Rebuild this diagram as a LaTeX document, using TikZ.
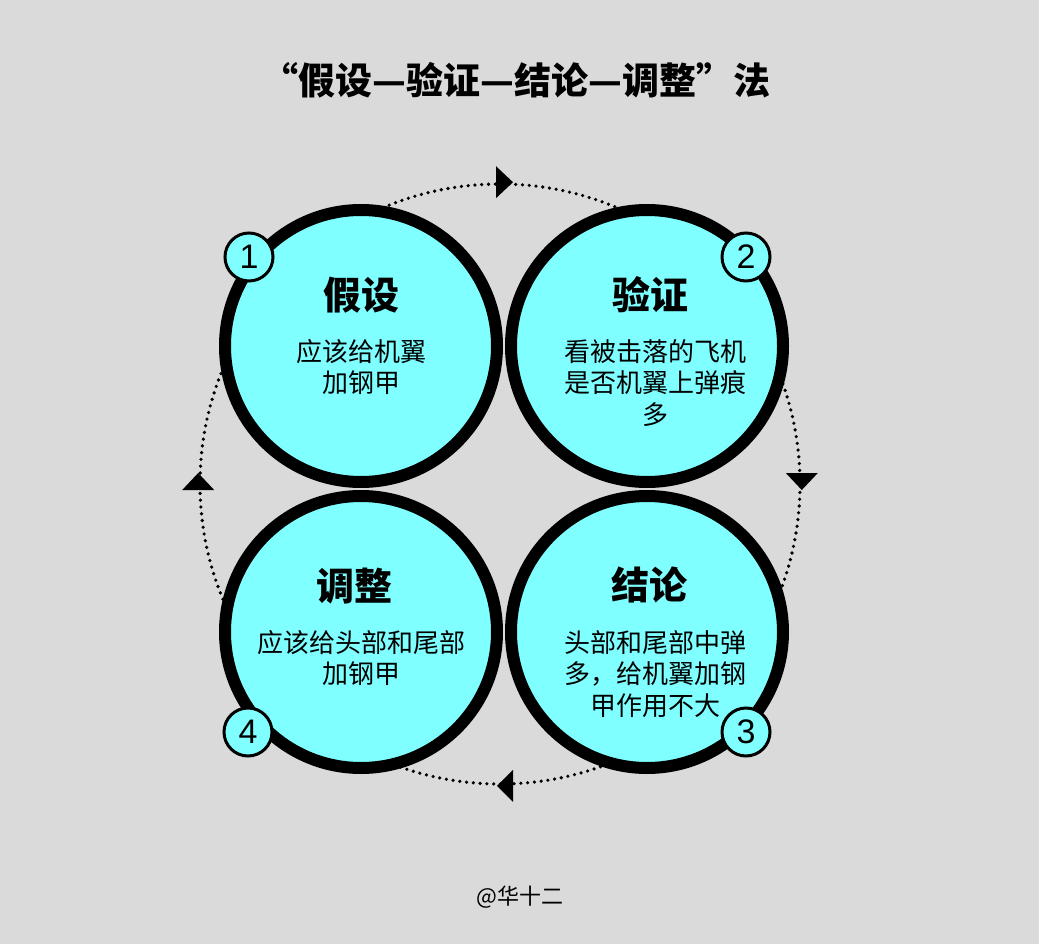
\documentclass[tikz,border=0pt]{standalone}
\usepackage{fontspec}
\newfontfamily\cjk{Noto Sans CJK SC}
\newfontfamily\numfont{Liberation Sans}
\definecolor{bg}{RGB}{218,218,218}
\definecolor{cyanfill}{RGB}{127,255,255}
\begin{document}
\begin{tikzpicture}[x=1pt,y=-1pt,
  bigc/.style={circle,draw=black,line width=12pt,fill=cyanfill,minimum size=272pt,inner sep=0pt},
  badge/.style={circle,draw=black,line width=3pt,fill=cyanfill,minimum size=48pt,inner sep=0pt,font=\numfont\fontsize{34}{34}\selectfont},
  head/.style={font=\cjk\bfseries\fontsize{38}{40}\selectfont,inner sep=0pt},
  body/.style={font=\cjk\fontsize{26}{31.5}\selectfont,align=center,inner sep=0pt},
  dotc/.style={circle,draw=black,line width=3.6pt,line cap=round,dash pattern=on 0pt off 6.8pt,minimum size=600pt,inner sep=0pt},
  tri/.style={fill=black}
]
\fill[bg] (0,0) rectangle (1039,944);
\useasboundingbox (0,0) rectangle (1039,944);
% title
\node[font=\cjk\bfseries\fontsize{37}{39}\selectfont,inner sep=0pt] (title) at (516,80) {“假设—验证—结论—调整”法};
% dotted ring and arrowheads
\node[dotc] (ring) at (500,484) {};
\fill[tri] ([shift={(-4,-16)}]ring.north) -- ++(17,16) -- ++(-17,16) -- cycle;
\fill[tri] ([shift={(-16,-11)}]ring.east) -- ++(32,0) -- ++(-16,17) -- cycle;
\fill[tri] ([shift={(-16,6)}]ring.west) -- ++(32,0) -- ++(-16,-17) -- cycle;
\fill[tri] ([shift={(13,-16)}]ring.south) -- ++(0,32) -- ++(-16,-16) -- cycle;
% circles
\node[bigc] (c1) at (361,346) {};
\node[bigc] (c2) at (647,346) {};
\node[bigc] (c3) at (647,632) {};
\node[bigc] (c4) at (361,632) {};
% badges
\node[badge] (n1) at (249,257) {1};
\node[badge] (n2) at (746,257) {2};
\node[badge] (n3) at (746,732) {3};
\node[badge] (n4) at (248,732) {4};
% texts
\node[head] (h1) at (361,295) {假设};
\node[body] (b1) at (361,367) {应该给机翼\\加钢甲};
\node[head] (h2) at (650,295) {验证};
\node[body] (b2) at (655,383) {看被击落的飞机\\是否机翼上弹痕\\多};
\node[head] (h3) at (649,585) {结论};
\node[body] (b3) at (655,674) {头部和尾部中弹\\多，给机翼加钢\\甲作用不大};
\node[head] (h4) at (354,586) {调整};
\node[body] (b4) at (361,658) {应该给头部和尾部\\加钢甲};
% watermark
\node[font=\cjk\fontsize{22}{24}\selectfont,inner sep=0pt] (mark) at (520,897) {@华十二};
\end{tikzpicture}
\end{document}
